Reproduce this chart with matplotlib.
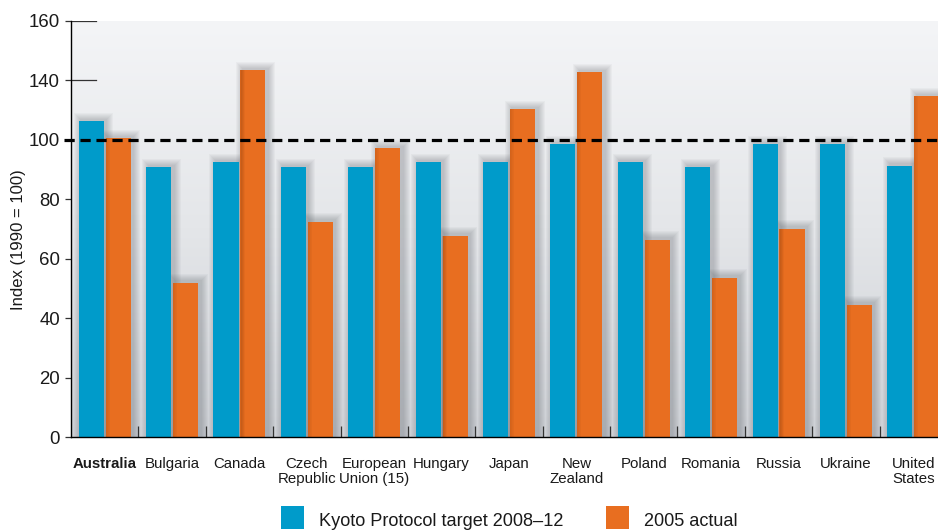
import numpy as np
import matplotlib
matplotlib.use('Agg')
import matplotlib.pyplot as plt
from matplotlib.patches import Rectangle
from matplotlib.colors import LinearSegmentedColormap

plt.rcParams['font.family'] = ['Liberation Sans', 'DejaVu Sans']

countries = ['Australia', 'Bulgaria', 'Canada', 'Czech\nRepublic', 'European\nUnion (15)',
             'Hungary', 'Japan', 'New\nZealand', 'Poland', 'Romania', 'Russia', 'Ukraine',
             'United\nStates']
kyoto_target = [106.2, 90.7, 92.4, 90.7, 90.7, 92.4, 92.4, 98.4, 92.4, 90.7, 98.4, 98.4, 91.3]
actual_2005 = [100.5, 51.9, 123.3, 72.4, 97.1, 67.7, 110.2, 122.6, 66.4, 53.6, 70.1, 44.5, 114.6]
ytick_vals = [0, 20, 40, 60, 80, 100, 120, 140]
ytick_labels = ['0', '20', '40', '60', '80', '100', '140', '160']

BLUE = '#009bca'
ORANGE = '#e86e20'

W, H = 938, 532
fig = plt.figure(figsize=(W / 100, H / 100), dpi=100)
x0, x1 = 71, 947
ytop, ybot = 20.7, 437.3
ax = fig.add_axes([x0 / W, (H - ybot) / H, (x1 - x0) / W, (ybot - ytop) / H])
ax.set_xlim(-0.5, len(countries) - 0.5)
ax.set_ylim(0, 140)
ax.set_facecolor('none')

# gradient background
grad = np.linspace(0, 1, 256).reshape(-1, 1)
cmap = LinearSegmentedColormap.from_list('bg', ['#f4f5f7', '#e4e6e9', '#cdd0d5'])
ax.imshow(grad, extent=[0, 1, 0, 1], transform=ax.transAxes, cmap=cmap,
          aspect='auto', zorder=0, origin='upper')

x = np.arange(len(countries))
w = 0.372
off = 0.2
px = 1 / 67.4          # one pixel in x data units
py = 140 / (ybot - ytop)  # one pixel in y data units

# soft drop shadows
for k in range(1, 8):
    for xs, vals in ((x - off, kyoto_target), (x + off, actual_2005)):
        ax.bar(xs + 2.5 * px, np.array(vals) + (1.5 + k) * py, width=w + 2 * k * px,
               color='#50555c', alpha=0.045, linewidth=0, zorder=1)

ax.bar(x - off, kyoto_target, width=w, color=BLUE, linewidth=0, zorder=3)
ax.bar(x + off, actual_2005, width=w, color=ORANGE, linewidth=0, zorder=3)
# darker left edge on orange bars (shadow cast by blue bar)
for k in range(4):
    ax.bar(x + off - w / 2 + (k + 0.5) * px, actual_2005, width=px * 1.2,
           color='#7a3408', alpha=0.18 - 0.04 * k, linewidth=0, zorder=4)

ax.axhline(100, xmin=-0.008, xmax=1, color='black', lw=2.3, dashes=(3.2, 1.8),
           clip_on=False, zorder=5)

for s in ['top', 'right']:
    ax.spines[s].set_visible(False)
for s in ['left', 'bottom']:
    ax.spines[s].set_linewidth(1.0)
    ax.spines[s].set_color('black')
    ax.spines[s].set_zorder(6)

ax.set_yticks(ytick_vals)
ax.set_yticklabels(ytick_labels, fontsize=13.4, color='#1a1a1a')
ax.tick_params(axis='y', direction='out', length=4, width=0.9, color='#333333', pad=4)
for v in ytick_vals[-2:]:
    ax.axhline(v, xmin=0, xmax=25 / (x1 - x0), color='#333333', lw=0.9, zorder=6)

ax.set_xticks(x)
ax.set_xticklabels(countries, fontsize=10.8, color='#1a1a1a', linespacing=1.15)
ax.get_xticklabels()[0].set_fontweight('bold')
ax.tick_params(axis='x', which='major', length=0, pad=14)
ax.set_xticks(x[:-1] + 0.5, minor=True)
ax.tick_params(axis='x', which='minor', direction='in', length=8, width=0.9, color='#333333')

fig.text(18.5 / W, 1 - 240 / H, 'Index (1990 = 100)', rotation=90, fontsize=12,
         ha='center', va='center', color='#1a1a1a')

# legend (the reference crops it at the bottom edge; keep the text inside)
leg_base = 526
fig.add_artist(Rectangle((281 / W, 1 - (leg_base + 3) / H), 23 / W, 23 / H,
                         transform=fig.transFigure, color=BLUE, lw=0))
fig.text(319 / W, 1 - leg_base / H, 'Kyoto Protocol target 2008\u201312', fontsize=13.1,
         va='baseline', color='#1a1a1a')
fig.add_artist(Rectangle((606 / W, 1 - (leg_base + 3) / H), 23 / W, 23 / H,
                         transform=fig.transFigure, color=ORANGE, lw=0))
fig.text(644 / W, 1 - leg_base / H, '2005 actual', fontsize=13.1, va='baseline',
         color='#1a1a1a')

fig.savefig('out.png', dpi=100)
